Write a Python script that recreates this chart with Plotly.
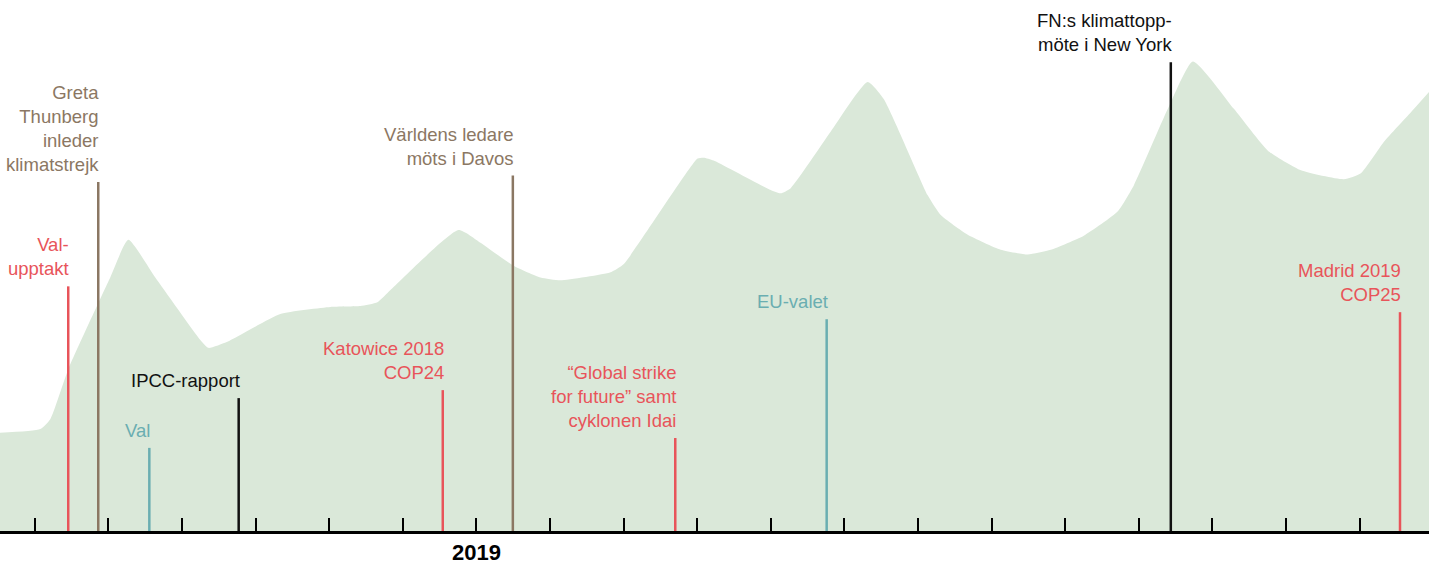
import plotly.graph_objects as go

# Interest curve (index, peak = 100); x in months relative to Jan 2019
curve_x = [-6.474, -5.927, -5.791, -5.547, -4.976, -4.731, -4.364, -3.752, -3.643, -3.385,
           -2.665, -1.985, -1.577, -1.346, -1.169, -0.245, 0.054, 0.503, 0.870, 1.142,
           1.822, 1.998, 3.004, 3.086, 3.222, 3.997, 4.133, 4.269, 4.812, 5.315,
           5.533, 6.131, 6.308, 6.675, 7.123, 7.490, 7.803, 8.252, 8.714, 8.931,
           9.394, 9.734, 10.291, 10.753, 11.202, 11.786, 12.017, 12.330, 12.697, 12.942]
curve_y = [20.9, 21.7, 23.8, 34.4, 54.0, 62.0, 54.0, 40.7, 39.0, 40.3,
           46.2, 47.7, 47.9, 48.7, 51.3, 64.1, 61.4, 56.5, 54.0, 53.4,
           55.1, 56.8, 79.3, 79.5, 78.9, 72.6, 71.9, 73.0, 85.0, 95.6,
           92.0, 71.5, 67.3, 63.1, 59.9, 58.9, 59.9, 62.9, 68.1, 73.6,
           89.9, 100.0, 89.9, 81.0, 76.8, 74.9, 76.2, 82.9, 89.2, 93.5]

# Events
event_labels = ["Val-<br>upptakt",
                "Greta<br>Thunberg<br>inleder<br>klimatstrejk",
                "Val",
                "IPCC-rapport",
                "Katowice 2018<br>COP24",
                "Världens ledare<br>möts i Davos",
                "“Global strike<br>for future” samt<br>cyklonen Idai",
                "EU-valet",
                "FN:s klimattopp-<br>möte i New York",
                "Madrid 2019<br>COP25"]
event_x = [-5.547, -5.139, -4.445, -3.231, -0.458, 0.494, 2.701, 4.758, 9.434, 12.548]
event_h = [52.1, 74.3, 17.7, 28.3, 30.0, 75.7, 19.8, 45.1, 99.8, 46.6]
event_kind = ["red", "brown", "teal", "black", "red", "brown", "red", "teal", "black", "red"]

# Month ticks
tick_vals = list(range(-6, 13))
tick_text = ["<b>2019</b>" if v == 0 else "" for v in tick_vals]

palette = {"red": "#e8545a", "brown": "#8b7763", "teal": "#6aaeb1", "black": "#111111"}
fill_color = "#dae8d9"
FONT = "Liberation Sans, Arial, sans-serif"

fig = go.Figure()
fig.add_trace(go.Scatter(x=curve_x, y=curve_y, mode="lines", fill="tozeroy",
                         fillcolor=fill_color,
                         line=dict(width=0, color=fill_color, shape="spline", smoothing=0.5),
                         hoverinfo="skip", showlegend=False))

for lab, x, h, k in zip(event_labels, event_x, event_h, event_kind):
    fig.add_trace(go.Scatter(x=[x, x], y=[0, h], mode="lines",
                             line=dict(color=palette[k], width=2.5),
                             hoverinfo="skip", showlegend=False))
    fig.add_annotation(x=x, y=h, text=lab, showarrow=False, xanchor="right",
                       yanchor="bottom", align="right", xshift=3, yshift=5,
                       font=dict(family=FONT, size=18.5, color=palette[k]))

fig.update_layout(
    width=1429, height=565,
    margin=dict(l=0, r=0, t=0, b=29),
    paper_bgcolor="white", plot_bgcolor="white",
    hovermode=False,
    xaxis=dict(range=[-6.474, 12.942], showgrid=False, zeroline=False,
               showline=True, linecolor="black", linewidth=3,
               ticks="inside", ticklen=13, tickwidth=2, tickcolor="black",
               tickvals=tick_vals, ticktext=tick_text,
               tickfont=dict(family=FONT, size=22, color="black")),
    yaxis=dict(range=[0, 113.08], showgrid=False, zeroline=False,
               showticklabels=False, showline=False),
)

fig.write_html("out.html", config={"displayModeBar": False},
               post_script="document.body.style.margin='0';document.body.style.overflow='hidden';")
